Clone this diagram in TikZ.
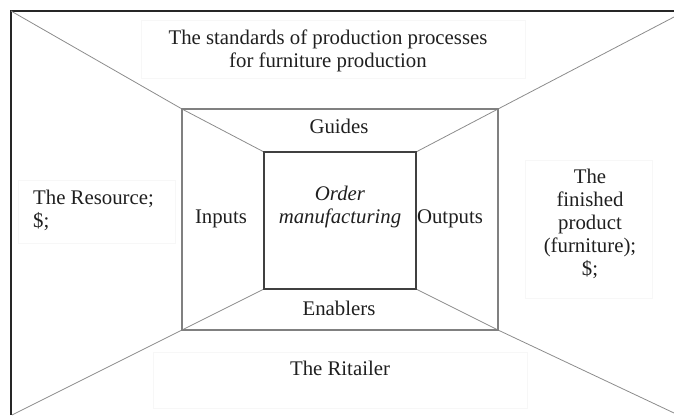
\documentclass[tikz,border=0pt]{standalone}
\usepackage{fontspec}
\setmainfont{Liberation Serif}
\begin{document}
\begin{tikzpicture}[x=1pt,y=-1pt,
  framel/.style={draw=black!85,line width=1.3pt},
  midl/.style={draw=black!50,line width=1.1pt},
  innerl/.style={draw=black!75,line width=1.4pt},
  diagl/.style={draw=black!45,line width=0.8pt},
  faintbox/.style={draw=black!3,line width=0.5pt},
  lbl/.style={font=\fontsize{20.8}{23}\selectfont,text=black!88,inner sep=0pt,anchor=base}
]
\useasboundingbox (0,0) rectangle (674,415);
% corners
\coordinate (O1) at (11,11);
\coordinate (O2) at (674,11);
\coordinate (O3) at (11,415);
\coordinate (Dtr) at (674,17);
\coordinate (Dbr) at (674,413);
\coordinate (Dbl) at (12,415);
\coordinate (M1) at (182,109);
\coordinate (M2) at (498,109);
\coordinate (M3) at (498,330);
\coordinate (M4) at (182,330);
\coordinate (I1) at (264,152);
\coordinate (I2) at (416,152);
\coordinate (I3) at (416,289);
\coordinate (I4) at (264,289);
% faint text boxes
\draw[faintbox] (141,20) rectangle (525,78);
\draw[faintbox] (153,352) rectangle (527,408);
\draw[faintbox] (18,180) rectangle (175,243);
\draw[faintbox] (525,160) rectangle (652,298);
% outer frame (left and top)
\draw[framel] (O3) -- (O1) -- (O2);
% diagonals
\draw[diagl] (O1) -- (M1) -- (I1);
\draw[diagl] (Dtr) -- (M2) -- (I2);
\draw[diagl] (Dbr) -- (M3) -- (I3);
\draw[diagl] (Dbl) -- (M4) -- (I4);
% middle rectangle
\draw[midl] (M1) -- (M2) -- (M3) -- (M4) -- cycle;
% inner square
\draw[innerl] (I1) -- (I2) -- (I3) -- (I4) -- cycle;
% labels (multi-line nodes: base = last line baseline)
\node[lbl,align=center] (std) at (328,67.5) {The standards of production processes\\for furniture production};
\node[lbl] (guides) at (339,133) {Guides};
\node[lbl,align=center,font=\fontsize{20.8}{23}\selectfont\itshape] (order) at (340,223) {Order\\manufacturing};
\node[lbl] (inputs) at (221,223) {Inputs};
\node[lbl] (outputs) at (450,223) {Outputs};
\node[lbl] (enablers) at (339,315) {Enablers};
\node[lbl,align=left,anchor=base west] (res) at (33,227) {The Resource;\\\$;};
\node[lbl,align=center] (fin) at (590,275) {The\\finished\\product\\(furniture);\\\$;};
\node[lbl] (ret) at (340,375) {The Ritailer};
\end{tikzpicture}
\end{document}
